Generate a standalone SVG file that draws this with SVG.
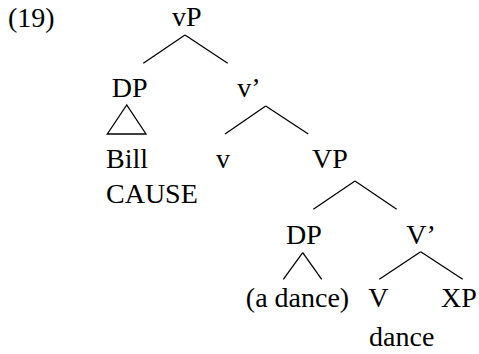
<svg xmlns="http://www.w3.org/2000/svg" width="479" height="354" viewBox="0 0 479 354">
<style>
text{font-family:'Liberation Serif','Times New Roman',Times,serif;font-size:28px;fill:#000;text-anchor:middle}
.s{text-anchor:start}
line,polygon{stroke:#000;stroke-width:1.3;fill:none}
</style>
<rect width="479" height="354" fill="#fff"/>
<g font-family="Liberation Serif, Times New Roman, serif">
<text class="s" x="8" y="27">(19)</text>
<g id="vP"><text x="186.7" y="26">vP</text></g>
<g id="DP1"><text x="129.7" y="97">DP</text></g>
<g id="vbar"><text x="249" y="97">v’</text></g>
<g id="Bill"><text class="s" x="106" y="168">Bill</text><text class="s" x="106" y="203">CAUSE</text></g>
<g id="v"><text x="223" y="167.5">v</text></g>
<g id="VP"><text x="330" y="167.5">VP</text></g>
<g id="DP2"><text x="304" y="243.5">DP</text></g>
<g id="Vbar"><text x="421" y="243.5">V’</text></g>
<g id="adance"><text x="297.5" y="307">(a dance)</text></g>
<g id="V"><text x="378.3" y="307">V</text><text x="401.7" y="346">dance</text></g>
<g id="XP"><text x="459" y="307">XP</text></g>
</g>
<g id="connectors">
<line x1="185" y1="35" x2="143.3" y2="63.3"/>
<line x1="185" y1="35" x2="227.7" y2="63.3"/>
<polygon points="126.7,105 107.3,134 146,134"/>
<line x1="265.7" y1="106" x2="225" y2="134"/>
<line x1="265.7" y1="106" x2="308.3" y2="134"/>
<line x1="355" y1="181" x2="313.3" y2="209.3"/>
<line x1="355" y1="181" x2="396.7" y2="209.3"/>
<line x1="302.7" y1="252.7" x2="283.3" y2="279.3"/>
<line x1="302.7" y1="252.7" x2="321.7" y2="279.3"/>
<line x1="420.7" y1="251.7" x2="379.3" y2="279.3"/>
<line x1="420.7" y1="251.7" x2="462.7" y2="279.3"/>
</g>
</svg>
